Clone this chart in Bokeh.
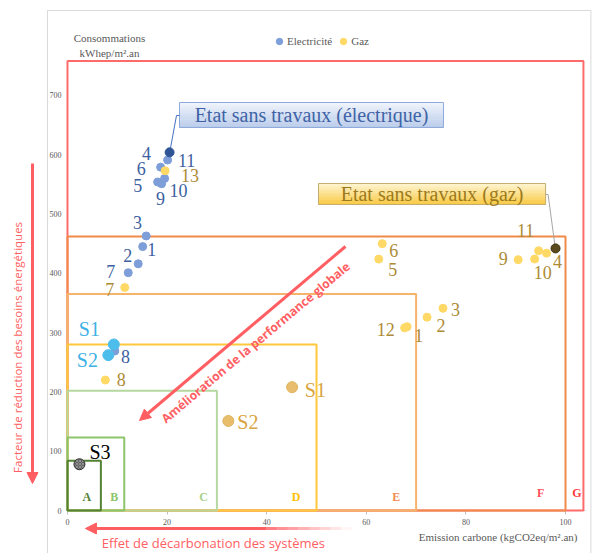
from bokeh.plotting import figure
from bokeh.models import (Range1d, LinearAxis, FixedTicker, Arrow, NormalHead,
                          Legend, LegendItem, ColumnDataSource)
from bokeh.core.properties import value
from bokeh.embed import file_html
from bokeh.resources import INLINE
import math

# ---------------- data ----------------
elec_labels = ["1", "2", "3", "5", "6", "7", "8", "9", "10", "11"]
elec_x = [15.1, 14.2, 15.8, 18.1, 18.7, 12.2, 9.5, 18.9, 19.5, 20.1]
elec_y = [445, 416, 463, 554, 579, 401, 269, 551, 560, 591]

gaz_labels = ["1", "2", "3", "5", "6", "7", "8", "9", "10", "11", "", "12", "13"]
gaz_x = [68.2, 72.2, 75.4, 62.5, 63.2, 11.5, 7.6, 90.5, 93.8, 94.6, 96.2, 67.7, 19.6]
gaz_y = [310, 326, 341, 424, 450, 376, 220, 423, 424, 438, 434, 308, 573]

# "Etat sans travaux" points (n°4): electric, gas
before_labels = ["4", "4"]
before_x = [20.5, 98.0]
before_y = [604, 442]

elec_scen_labels = ["S1", "S2"]
elec_scen_x = [9.3, 8.2]
elec_scen_y = [280, 262]

gaz_scen_labels = ["S1", "S2"]
gaz_scen_x = [45.1, 32.3]
gaz_scen_y = [208, 151]

s3_labels = ["S3"]
s3_x = [2.4]
s3_y = [78]

class_names = ["A", "B", "C", "D", "E", "F", "G"]
class_co2_max = [6.7, 11.4, 30, 50, 70, 100, 103.6]
class_energy_max = [84, 123, 202, 280, 365, 462, 758]

x_ticks = [0, 20, 40, 60, 80, 100]
y_ticks = [0, 100, 200, 300, 400, 500, 600, 700]

# ---------------- label placement (pixel offsets, screen) ----------------
elec_dx = [9, -10.5, -8.7, -20, -19.5, -17.5, 10.7, -1, 14, 19]
elec_dy = [3, -8, -13, 3.5, 1, -1, 6, 14.5, 12, 0]
gaz_dx = [11.7, 14, 12.6, 14, 11.6, -15, 16, -15, 8, -13, 0, -19, 25]
gaz_dy = [8.6, 8, 1.5, 10, 7, 2, -0.5, -1, 13, -20, 0, 2, 5]
before_dx = [-23, 2]
before_dy = [1, 13]
elec_scen_dx = [-24.5, -21]
elec_scen_dy = [-15, 4.5]
gaz_scen_dx = [23.3, 19.5]
gaz_scen_dy = [3, 1]
s3_dx = [20.5]
s3_dy = [-12.5]
class_label_x = [3.9, 9.4, 27.35, 45.9, 66.0, 95.0, 102.3]
class_label_y = [23.6, 23.6, 23.6, 23.6, 23.6, 28.7, 28.7]

# ---------------- styles ----------------
SERIF = value("Liberation Serif")
SANS = value("Open Sans")
RED = "#FF5E62"
ELEC_PT = "#7D9ED8"
ELEC_TXT = "#3B5FA0"
GAZ_PT = "#FFD966"
GAZ_TXT = "#AD8B36"
class_line_colors = ["#548235", "#8CC56C", "#B5D8A0", "#FFC83D", "#F5B36B", "#F08A4B", "#FF6B6B"]
class_text_colors = ["#548235", "#8CC56C", "#A9D18E", "#FFC000", "#F28B4E", "#FF4F5A", "#FF3B3B"]

p = figure(width=593, height=553,
           x_range=Range1d(-13.454, 105.622), y_range=Range1d(-72.51, 860.03),
           x_axis_location=None, y_axis_location=None,
           toolbar_location=None, output_backend="svg",
           min_border=0, outline_line_color=None,
           background_fill_color="white", border_fill_color="white")
p.min_border_left = p.min_border_right = p.min_border_top = p.min_border_bottom = 0
p.grid.visible = False

# axes at fixed data locations
xaxis = LinearAxis(fixed_location=0, ticker=FixedTicker(ticks=x_ticks), bounds=(0, 104))
xaxis.level = "underlay"
xaxis.axis_line_color = "#D9D9D9"
xaxis.major_tick_line_color = "#BFBFBF"
xaxis.major_tick_out = 4
xaxis.major_tick_in = 0
xaxis.minor_tick_line_color = None
xaxis.major_label_standoff = 4
xaxis.major_label_text_font = "Liberation Serif"
xaxis.major_label_text_font_size = "8px"
xaxis.major_label_text_color = "#595959"
p.add_layout(xaxis, "below")

yaxis = LinearAxis(fixed_location=0, ticker=FixedTicker(ticks=y_ticks))
yaxis.axis_line_color = None
yaxis.major_tick_line_color = None
yaxis.minor_tick_line_color = None
yaxis.major_tick_out = 0
yaxis.major_label_standoff = 6
yaxis.major_label_text_font = "Liberation Serif"
yaxis.major_label_text_font_size = "8px"
yaxis.major_label_text_color = "#595959"
p.add_layout(yaxis, "left")

# outer chart border
p.quad(left=[-4.02], right=[105.1], bottom=[-100], top=[843.2],
       fill_color=None, line_color="#D9D9D9", line_width=1)

# class boxes, largest first
p.quad(left=[0] * 7, right=class_co2_max[::-1], bottom=[0] * 7, top=class_energy_max[::-1],
       fill_color=None, line_color=class_line_colors[::-1], line_width=2)
p.text(x=class_label_x, y=class_label_y, text=class_names, text_color=class_text_colors,
       text_font=SERIF, text_font_size="12px", text_font_style="bold",
       text_align="center", text_baseline="middle")


# callout boxes with vertical gradient
def _rgb(h):
    return tuple(int(h[i:i + 2], 16) for i in (1, 3, 5))


def _mix(c1, c2, t):
    a, b = _rgb(c1), _rgb(c2)
    return "#%02x%02x%02x" % tuple(round(a[k] + (b[k] - a[k]) * t) for k in range(3))


def gradient_box(x0, x1, y0, y1, c_top, c_bot, border, n=12):
    h = (y1 - y0) / n
    tops = [y1 - i * h for i in range(n)]
    bots = [t - h for t in tops]
    cols = [_mix(c_top, c_bot, (i + 0.5) / n) for i in range(n)]
    p.quad(left=[x0] * n, right=[x1] * n, bottom=bots, top=tops,
           fill_color=cols, line_color=cols, line_width=0.5)
    p.quad(left=[x0], right=[x1], bottom=[y0], top=[y1],
           fill_color=None, line_color=border, line_width=1)


gradient_box(22.49, 75.5, 645.9, 688.0, "#F2F6FC", "#B9CBEA", "#8EA9DB")
p.text(x=[49.0], y=[667.0], text=["Etat sans travaux (électrique)"], text_color="#3F63A6",
       text_font=SERIF, text_font_size="20px", text_align="center", text_baseline="middle")
p.line(x=[22.49, 21.89, 20.6], y=[666.1, 666.1, 607.5], line_color="#4472C4", line_width=1)

gradient_box(50.4, 96.0, 516.0, 551.4, "#FFF5D6", "#F8C940", "#C4AD72")
p.text(x=[73.2], y=[533.7], text=["Etat sans travaux (gaz)"], text_color="#9C7A1C",
       text_font=SERIF, text_font_size="20px", text_align="center", text_baseline="middle")
p.line(x=[96.0, 96.5, 97.9], y=[532.9, 532.9, 446], line_color="#A6A6A6", line_width=1)

# points
r_elec = p.scatter(elec_x, elec_y, size=8, fill_color=ELEC_PT, line_color=ELEC_PT)
r_gaz = p.scatter(gaz_x, gaz_y, size=8, fill_color=GAZ_PT, line_color=GAZ_PT)
p.scatter(elec_scen_x, elec_scen_y, size=11, fill_color="#4DBDEB", line_color="#4DBDEB")
p.scatter(gaz_scen_x, gaz_scen_y, size=11, fill_color="#E8BE6C", line_color="#E0B45E")
p.scatter(s3_x, s3_y, size=11, fill_color="#5F5F5F", line_color="#333333",
          hatch_pattern="x", hatch_color="#A8A8A8", hatch_scale=3, hatch_weight=0.7)
p.scatter(before_x, before_y, size=9, fill_color=["#2F5597", "#5B4A1E"],
          line_color=["#2F5597", "#3B2F10"])


# point labels
def labels(xs, ys, ts, dx, dy, color, size):
    src = ColumnDataSource(dict(x=xs, y=ys, t=ts, dx=dx, dy=dy))
    p.text(x="x", y="y", text="t", x_offset="dx", y_offset="dy", source=src,
           text_color=color, text_font=SERIF, text_font_size=size,
           text_align="center", text_baseline="middle")


labels(elec_x, elec_y, elec_labels, elec_dx, elec_dy, ELEC_TXT, "18px")
labels(gaz_x, gaz_y, gaz_labels, gaz_dx, gaz_dy, GAZ_TXT, "18px")
src_b = ColumnDataSource(dict(x=before_x, y=before_y, t=before_labels, dx=before_dx, dy=before_dy,
                              c=[ELEC_TXT, GAZ_TXT]))
p.text(x="x", y="y", text="t", x_offset="dx", y_offset="dy", source=src_b, text_color="c",
       text_font=SERIF, text_font_size="18px", text_align="center", text_baseline="middle")
labels(elec_scen_x, elec_scen_y, elec_scen_labels, elec_scen_dx, elec_scen_dy, "#3DB1E5", "20px")
labels(gaz_scen_x, gaz_scen_y, gaz_scen_labels, gaz_scen_dx, gaz_scen_dy, "#D9A441", "20px")
labels(s3_x, s3_y, s3_labels, s3_dx, s3_dy, "black", "20px")

# axis titles
p.text(x=[8.43], y=[784.1], text=["Consommations\nkWhep/m².an"], text_color="#595959",
       text_font=SERIF, text_font_size="11px", text_align="center", text_baseline="middle",
       text_line_height=1.2)
p.text(x=[102.4], y=[-45.5], text=["Emission carbone (kgCO2eq/m².an)"], text_color="#595959",
       text_font=SERIF, text_font_size="11px", text_align="right", text_baseline="middle")

# red explanatory arrows and texts
p.text(x=[-9.94], y=[275], text=["Facteur de réduction des besoins énergétiques"], angle=math.pi / 2,
       text_color=RED, text_font=SANS, text_font_size="11.5px", text_align="center",
       text_baseline="middle")
p.add_layout(Arrow(x_start=-7.03, y_start=585, x_end=-7.03, y_end=45.5, line_color=RED,
                   line_width=3, end=NormalHead(size=11, fill_color=RED, line_color=RED)))

p.text(x=[29.3], y=[-55.6], text=["Effet de décarbonation des systèmes"],
       text_color=RED, text_font=SANS, text_font_size="13px", text_align="center",
       text_baseline="middle")
p.add_layout(Arrow(x_start=40.0, y_start=-30.35, x_end=3.6, y_end=-30.35, line_color=RED,
                   line_width=3, end=NormalHead(size=11, fill_color=RED, line_color=RED)))
fade_n = 8
for i in range(fade_n):
    xa = 40.0 + i * (57.0 - 40.0) / fade_n
    xb = 40.0 + (i + 1) * (57.0 - 40.0) / fade_n
    p.line(x=[xa, xb], y=[-30.35, -30.35], line_color=RED, line_width=3,
           line_alpha=0.85 * (1 - (i + 0.5) / fade_n))

p.add_layout(Arrow(x_start=55.82, y_start=445.2, x_end=14.46, y_end=151.8, line_color=RED,
                   line_width=3, end=NormalHead(size=11, fill_color=RED, line_color=RED)))
p.text(x=[37.75], y=[283.3], text=["Amélioration de la performance globale"], angle=0.70,
       text_color=RED, text_font=SANS, text_font_size="12.2px", text_font_style="bold",
       text_align="center", text_baseline="middle")

# legend
legend = Legend(items=[LegendItem(label="Electricité", renderers=[r_elec]),
                       LegendItem(label="Gaz", renderers=[r_gaz])],
                orientation="horizontal", location=(271, 504),
                border_line_color=None, background_fill_alpha=0,
                padding=0, margin=0, spacing=3, glyph_width=16, glyph_height=16,
                label_standoff=0, label_height=16,
                label_text_font="Liberation Serif", label_text_font_size="11px",
                label_text_color="#595959")
p.add_layout(legend)

open("out.html", "w").write(file_html(p, INLINE))
